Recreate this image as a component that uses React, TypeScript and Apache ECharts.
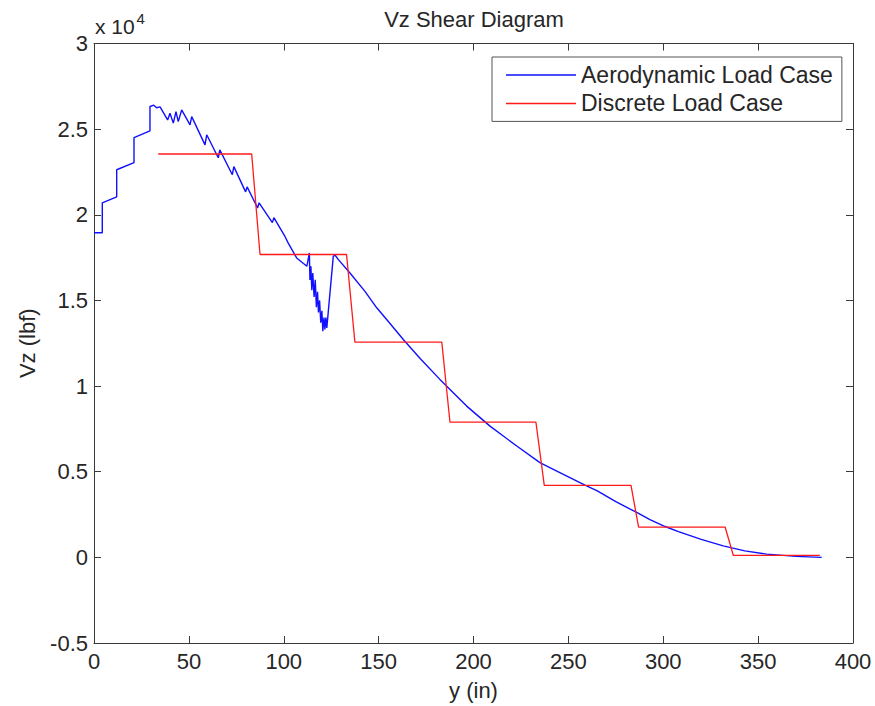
import React, { useEffect, useRef } from "react";
import * as echarts from "echarts";

// Aerodynamic load case: spanwise station y (in) and shear Vz (lbf)
const aeroY = [
  0, 4.37, 4.37, 11.96, 11.96, 21.08, 21.08, 29.5, 29.5, 31.5, 33, 34.8,
  38.8, 40.05, 41.8, 43.2, 44.4, 46.2, 50.6, 51.5, 58.5, 59.4,
  65.5, 66.3, 72.9, 73.7, 79.9, 80.7, 86.2, 87.0, 94.0, 94.8, 100.7, 102.3,
  106.8, 112.2, 113.5, 113.8, 114.3, 114.8, 115.3, 116.0, 116.6, 117.2, 117.8,
  118.3, 118.9, 119.5, 120.1, 120.6, 121.2, 121.7, 122.2, 122.7, 126.1, 127.0,
  128.8, 134.9, 142.8, 149.0, 156.0, 163.0, 172.0, 182.3, 196.4, 208.7, 222.8,
  235.0, 241, 250, 259, 265, 275, 286, 293, 301, 308, 320, 331.6, 343, 354.5,
  370, 383.5,
];
const aeroVz = [
  18950, 18950, 20700, 21050, 22630, 23040, 24510, 24900, 26320, 26400, 26250, 26300,
  25540, 25930, 25350, 26020, 25440, 26120, 25250, 25730, 24080, 24670,
  23330, 23790, 22340, 22810, 21340, 21630, 20400, 20700, 19540, 19830, 18720, 18360,
  17480, 17000, 17770, 16200, 17000, 15600, 16600, 15200, 16200, 14600, 15500,
  14300, 15000, 13700, 14400, 13200, 14000, 13300, 14000, 13400, 17570, 17650,
  17380, 16600, 15530, 14570, 13650, 12720, 11600, 10390, 8830, 7660, 6500,
  5530, 5200, 4700, 4200, 3900, 3250, 2620, 2200, 1800, 1500, 1050, 670, 380, 190,
  60, 0,
];

// Discrete load case
const discY = [
  33.85, 83.1, 87.5, 133.1, 137.5, 183.3, 187.6, 232.9, 237.3, 283.0, 287.0,
  332.6, 336.9, 382.5,
];
const discVz = [
  23550, 23550, 17680, 17680, 12560, 12560, 7890, 7890, 4200, 4200, 1770,
  1770, 120, 120,
];

const xTicks = { min: 0, max: 400, interval: 50 };
const yTicks = { min: -5000, max: 30000, interval: 5000 };

const titleText = "Vz Shear Diagram";
const xName = "y (in)";
const yName = "Vz (lbf)";
const seriesNames = ["Aerodynamic Load Case", "Discrete Load Case"];

const FONT = "Liberation Sans, Arial, Helvetica, sans-serif";
const TXT = "#262626";
const AX = "#3a3a3a";

export default function App() {
  const ref = useRef<HTMLDivElement>(null);

  useEffect(() => {
    if (!ref.current) return;
    const chart = echarts.init(ref.current, null, { renderer: "svg" });

    const aeroData = aeroY.map((x, i) => [x, aeroVz[i]]);
    const discData = discY.map((x, i) => [x, discVz[i]]);

    const axisCommon = {
      axisLine: { show: true, onZero: false, lineStyle: { color: AX, width: 1 } },
      axisTick: { show: true, inside: true, length: 7, lineStyle: { color: AX, width: 1 } },
      splitLine: { show: false },
    };

    chart.setOption({
      animation: false,
      backgroundColor: "#ffffff",
      textStyle: { fontFamily: FONT },
      grid: { left: 94, right: 22, top: 43.5, bottom: 62, containLabel: false },
      xAxis: [
        {
          type: "value",
          ...xTicks,
          position: "bottom",
          ...axisCommon,
          axisLabel: { fontSize: 22, color: TXT, margin: 7, fontFamily: FONT },
          name: xName,
          nameLocation: "middle",
          nameGap: 36,
          nameTextStyle: { fontSize: 22, color: TXT, fontFamily: FONT },
        },
        {
          type: "value",
          ...xTicks,
          position: "top",
          ...axisCommon,
          axisLabel: { show: false },
        },
      ],
      yAxis: [
        {
          type: "value",
          ...yTicks,
          position: "left",
          ...axisCommon,
          axisLabel: {
            fontSize: 22,
            color: TXT,
            margin: 6,
            fontFamily: FONT,
            formatter: (v: number) => String(Math.round(v / 1000) / 10),
          },
          name: yName,
          nameLocation: "middle",
          nameGap: 56,
          nameTextStyle: { fontSize: 22, color: TXT, fontFamily: FONT },
        },
        {
          type: "value",
          ...yTicks,
          position: "right",
          ...axisCommon,
          axisLabel: { show: false },
        },
      ],
      legend: {
        data: seriesNames,
        orient: "vertical",
        left: 492,
        top: 57,
        padding: [5, 9, 5, 14],
        itemWidth: 70,
        itemHeight: 1.5,
        itemGap: 2.4,
        icon: "rect",
        borderColor: "#555",
        borderWidth: 1,
        borderRadius: 0,
        backgroundColor: "#ffffff",
        textStyle: { fontSize: 23, lineHeight: 26, color: TXT, fontFamily: FONT },
      },
      graphic: [
        {
          type: "text",
          x: 474,
          y: 19,
          style: {
            text: titleText,
            fontSize: 22,
            fontFamily: FONT,
            fill: TXT,
            textAlign: "center",
            textVerticalAlign: "middle",
          },
        },
        {
          type: "text",
          x: 95,
          y: 26,
          style: {
            text: "x 10",
            fontSize: 21,
            fontFamily: FONT,
            fill: TXT,
            textAlign: "left",
            textVerticalAlign: "middle",
          },
        },
        {
          type: "text",
          x: 136.5,
          y: 18,
          style: {
            text: "4",
            fontSize: 15,
            fontFamily: FONT,
            fill: TXT,
            textAlign: "left",
            textVerticalAlign: "middle",
          },
        },
      ],
      series: [
        {
          name: seriesNames[0],
          type: "line",
          data: aeroData,
          showSymbol: false,
          symbol: "none",
          color: "#1010ff",
          lineStyle: { color: "#1010ff", width: 1.4 },
          z: 2,
        },
        {
          name: seriesNames[1],
          type: "line",
          data: discData,
          showSymbol: false,
          symbol: "none",
          color: "#ff1a1a",
          lineStyle: { color: "#ff1a1a", width: 1.3 },
          z: 3,
        },
      ],
    });

    return () => chart.dispose();
  }, []);

  return (
    <div
      ref={ref}
      style={{ position: "absolute", left: 0, top: 0, width: 875, height: 706, background: "#fff" }}
    />
  );
}
